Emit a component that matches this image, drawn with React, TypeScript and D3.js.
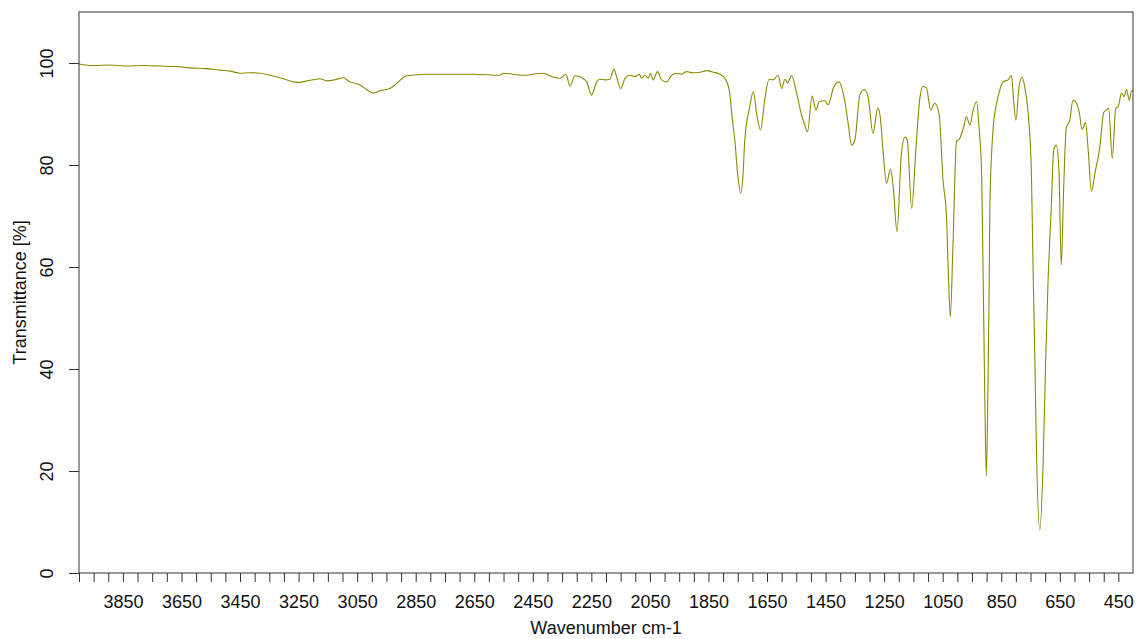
import React, { useEffect, useRef } from 'react';
import * as d3 from 'd3';

// IR spectrum, wavenumber (cm-1) / transmittance (%)
const wavenumbers = [
  4000, 3951, 3894, 3837, 3781, 3723, 3669, 3610, 3566, 3518, 3484, 3450, 3416, 3382, 3355, 3325,
  3297, 3268, 3245, 3222, 3201, 3177, 3154, 3126, 3097, 3075, 3040, 3018, 2995, 2972, 2938, 2915,
  2881, 2813, 2699, 2654, 2562, 2551, 2483, 2414, 2380, 2357, 2337, 2323, 2306, 2289, 2266, 2249,
  2232, 2221, 2204, 2187, 2173, 2164, 2150, 2135, 2118, 2101, 2087, 2078, 2067, 2056, 2048, 2039,
  2024, 2010, 1993, 1976, 1959, 1942, 1925, 1902, 1879, 1856, 1834, 1811, 1794, 1779, 1768, 1760,
  1750, 1740, 1732, 1726, 1709, 1697, 1684, 1672, 1657, 1643, 1629, 1612, 1600, 1589, 1580, 1566,
  1549, 1532, 1521, 1512, 1496, 1483, 1472, 1452, 1441, 1424, 1405, 1384, 1373, 1361, 1350, 1333,
  1318, 1305, 1288, 1272, 1265, 1253, 1242, 1228, 1219, 1206, 1191, 1179, 1171, 1156, 1141, 1128,
  1118, 1106, 1091, 1077, 1062, 1049, 1037, 1031, 1024, 1015, 1003, 992, 978, 969, 957, 946,
  934, 926, 917, 912, 906, 901, 896, 891, 889, 878, 866, 855, 844, 827, 815, 807,
  800, 789, 779, 770, 758, 747, 741, 735, 730, 718, 707, 698, 690, 679, 671, 662,
  653, 645, 637, 628, 616, 605, 593, 584, 574, 562, 553, 542, 530, 513, 500, 490,
  483, 471, 459, 451, 439, 431, 422, 413, 405, 400,
];

const transmittance = [
  99.8, 99.5, 99.6, 99.4, 99.5, 99.4, 99.3, 99.0, 98.9, 98.6, 98.4, 98.0, 98.1, 98.0, 97.7, 97.3,
  96.8, 96.3, 96.2, 96.5, 96.7, 96.9, 96.5, 96.7, 97.1, 96.3, 95.7, 94.8, 94.1, 94.6, 95.0, 96.0,
  97.5, 97.8, 97.8, 97.8, 97.6, 98.0, 97.6, 98.0, 97.2, 97.0, 97.8, 95.5, 97.5, 97.3, 96.3, 93.7,
  96.3, 96.8, 96.7, 96.8, 98.8, 97.3, 95.0, 97.0, 97.6, 97.3, 97.8, 97.0, 97.6, 97.0, 98.0, 96.7,
  98.3, 96.7, 96.3, 97.6, 98.0, 97.8, 98.3, 98.1, 98.2, 98.5, 98.2, 97.8, 97.0, 94.7, 88.8, 84.9,
  78.0, 74.5, 78.0, 84.9, 91.4, 94.4, 89.5, 86.9, 93.1, 96.8, 96.7, 97.6, 95.0, 96.8, 96.1, 97.5,
  94.1, 89.8, 87.8, 86.5, 93.5, 90.8, 92.4, 92.6, 91.8, 95.0, 96.3, 92.4, 88.2, 83.9, 84.9, 93.7,
  94.8, 93.4, 86.2, 91.1, 90.1, 82.3, 76.4, 79.2, 75.7, 66.9, 82.3, 85.5, 84.9, 71.5, 83.6, 93.1,
  95.4, 95.2, 90.8, 92.1, 89.8, 77.1, 69.9, 59.4, 50.2, 64.0, 84.6, 85.2, 87.5, 89.5, 87.8, 90.8,
  92.4, 87.5, 78.4, 58.8, 33.9, 19.0, 33.9, 57.5, 71.8, 86.9, 92.1, 94.7, 96.3, 96.7, 97.5, 92.1,
  88.8, 95.4, 97.2, 95.4, 90.1, 78.4, 58.8, 41.1, 24.8, 8.4, 21.5, 42.4, 57.5, 71.8, 82.9, 83.9,
  79.0, 60.4, 75.1, 87.2, 88.8, 92.7, 92.1, 90.5, 87.0, 88.3, 82.9, 74.8, 78.4, 83.6, 90.3, 90.8,
  91.1, 81.3, 91.1, 91.4, 94.1, 93.4, 94.8, 92.7, 94.5, 94.5,
];

const xTickLabels = [3850, 3650, 3450, 3250, 3050, 2850, 2650, 2450, 2250, 2050, 1850, 1650, 1450, 1250, 1050, 850, 650, 450];
const yTickLabels = [0, 20, 40, 60, 80, 100];

const W = 1136;
const H = 639;

const App: React.FC = () => {
  const svgRef = useRef<SVGSVGElement | null>(null);

  useEffect(() => {
    if (!svgRef.current) return;
    const svg = d3.select(svgRef.current);
    svg.selectAll('*').remove();

    const margin = { top: 12, right: 3, bottom: 66, left: 79 };
    const font = '"Liberation Sans", Arial, sans-serif';

    const x = d3.scaleLinear().domain([4000, 400]).range([margin.left, W - margin.right]);
    const y = d3.scaleLinear().domain([0, 110]).range([H - margin.bottom, margin.top]);

    // spectrum
    const line = d3.line<number>()
      .x((_, i) => x(wavenumbers[i]))
      .y(d => y(d))
      .curve(d3.curveMonotoneX);

    svg.append('path')
      .datum(transmittance)
      .attr('d', line)
      .attr('fill', 'none')
      .attr('stroke', '#8b8b00')
      .attr('stroke-width', 1.1);

    // box
    svg.append('rect')
      .attr('x', margin.left)
      .attr('y', margin.top)
      .attr('width', W - margin.left - margin.right)
      .attr('height', H - margin.top - margin.bottom)
      .attr('fill', 'none')
      .attr('stroke', '#333')
      .attr('stroke-width', 1);

    // x axis: minor ticks every 50, labels every 200
    const xAxis = d3.axisBottom(x)
      .tickValues(d3.range(4000, 449, -50))
      .tickSize(9)
      .tickFormat(d => (xTickLabels.includes(+d) ? String(d) : ''));

    const gx = svg.append('g')
      .attr('transform', `translate(0,${y(0)})`)
      .call(xAxis);
    gx.select('.domain').remove();
    gx.selectAll('line').attr('stroke', '#333');
    gx.selectAll('text')
      .attr('y', 22)
      .attr('dy', '0.71em')
      .attr('fill', '#111')
      .style('font-family', font)
      .style('font-size', '18px');

    // y axis with rotated labels
    const gy = svg.append('g')
      .attr('transform', `translate(${margin.left},0)`)
      .call(d3.axisLeft(y).tickValues(yTickLabels).tickSize(10).tickFormat(d3.format('d')));
    gy.select('.domain').remove();
    gy.selectAll('line').attr('stroke', '#333');
    gy.selectAll('text')
      .attr('x', null)
      .attr('dy', null)
      .attr('text-anchor', 'middle')
      .attr('transform', 'translate(-26,0) rotate(-90)')
      .attr('fill', '#111')
      .style('font-family', font)
      .style('font-size', '18px');

    // titles
    svg.append('text')
      .attr('x', (margin.left + W - margin.right) / 2)
      .attr('y', 634)
      .attr('text-anchor', 'middle')
      .attr('fill', '#111')
      .style('font-family', font)
      .style('font-size', '18px')
      .text('Wavenumber cm-1');

    svg.append('text')
      .attr('transform', `translate(26,${(margin.top + H - margin.bottom) / 2}) rotate(-90)`)
      .attr('text-anchor', 'middle')
      .attr('fill', '#111')
      .style('font-family', font)
      .style('font-size', '18px')
      .text('Transmittance [%]');
  }, []);

  return (
    <svg
      ref={svgRef}
      width={W}
      height={H}
      style={{ position: 'absolute', left: 0, top: 0, background: '#fff' }}
    />
  );
};

export default App;
